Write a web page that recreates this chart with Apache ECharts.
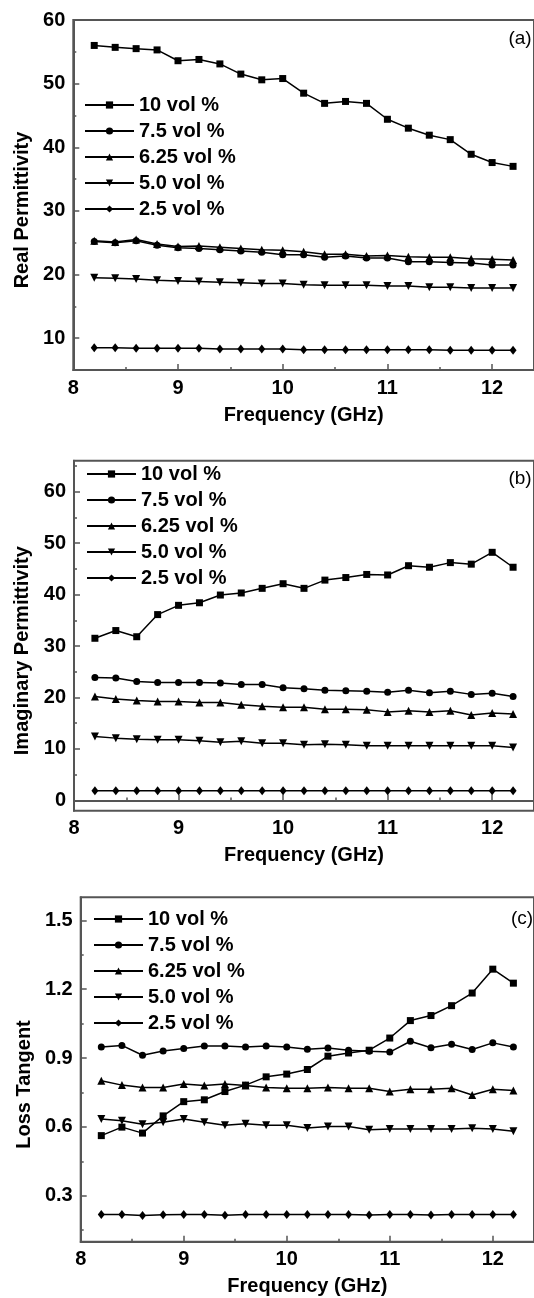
<!DOCTYPE html>
<html>
<head>
<meta charset="utf-8">
<script src="https://cdn.jsdelivr.net/npm/echarts@6/dist/echarts.min.js"></script>
<style>
  html, body { margin: 0; padding: 0; background: #fff; }
  #main { width: 534px; height: 1298px; }
</style>
</head>
<body>
<div id="main"></div>
<script>
var freq = [8.2, 8.4, 8.6, 8.8, 9.0, 9.2, 9.4, 9.6, 9.8, 10.0, 10.2, 10.4, 10.6, 10.8, 11.0, 11.2, 11.4, 11.6, 11.8, 12.0, 12.2];
var seriesNames = ['10 vol %', '7.5 vol %', '6.25 vol %', '5.0 vol %', '2.5 vol %'];

// (a) real permittivity
var real10 = [56.0, 55.7, 55.5, 55.3, 53.6, 53.8, 53.1, 51.5, 50.6, 50.8, 48.5, 46.9, 47.2, 46.9, 44.4, 43.0, 41.9, 41.2, 38.9, 37.6, 37.0];
var real75 = [25.2, 25.0, 25.3, 24.6, 24.2, 24.1, 23.9, 23.7, 23.5, 23.1, 23.1, 22.7, 22.9, 22.6, 22.6, 22.0, 22.0, 21.9, 21.8, 21.5, 21.5];
var real625 = [25.3, 25.1, 25.5, 24.8, 24.4, 24.5, 24.3, 24.1, 23.9, 23.8, 23.6, 23.2, 23.2, 22.9, 23.0, 22.8, 22.7, 22.7, 22.5, 22.4, 22.3];
var real50 = [19.5, 19.4, 19.3, 19.1, 19.0, 18.9, 18.8, 18.7, 18.6, 18.6, 18.4, 18.3, 18.3, 18.3, 18.2, 18.2, 18.0, 18.0, 17.9, 17.9, 17.9];
var real25 = [8.5, 8.5, 8.4, 8.4, 8.4, 8.4, 8.3, 8.3, 8.3, 8.3, 8.2, 8.2, 8.2, 8.2, 8.2, 8.2, 8.2, 8.1, 8.1, 8.1, 8.1];

// (b) imaginary permittivity
var imag10 = [31.5, 33.0, 31.8, 36.1, 37.9, 38.4, 39.9, 40.3, 41.2, 42.1, 41.2, 42.8, 43.3, 43.9, 43.8, 45.6, 45.3, 46.2, 45.9, 48.2, 45.3];
var imag75 = [23.9, 23.8, 23.1, 22.9, 22.9, 22.9, 22.8, 22.5, 22.5, 21.9, 21.7, 21.4, 21.3, 21.2, 21.0, 21.4, 20.9, 21.2, 20.6, 20.8, 20.2];
var imag625 = [20.2, 19.7, 19.4, 19.2, 19.2, 19.0, 19.0, 18.6, 18.3, 18.1, 18.1, 17.7, 17.7, 17.6, 17.2, 17.4, 17.2, 17.4, 16.6, 17.0, 16.8];
var imag50 = [12.4, 12.1, 11.9, 11.8, 11.8, 11.6, 11.3, 11.5, 11.1, 11.1, 10.8, 10.9, 10.8, 10.6, 10.6, 10.6, 10.6, 10.6, 10.6, 10.6, 10.3];
var imag25 = [1.9, 1.9, 1.9, 1.9, 1.9, 1.9, 1.9, 1.9, 1.9, 1.9, 1.9, 1.9, 1.9, 1.9, 1.9, 1.9, 1.9, 1.9, 1.9, 1.9, 1.9];

// (c) loss tangent
var loss10 = [0.562, 0.599, 0.573, 0.648, 0.710, 0.718, 0.754, 0.782, 0.818, 0.830, 0.850, 0.908, 0.922, 0.934, 0.987, 1.063, 1.085, 1.128, 1.183, 1.287, 1.226];
var loss75 = [0.948, 0.955, 0.912, 0.931, 0.941, 0.952, 0.952, 0.948, 0.952, 0.948, 0.938, 0.944, 0.934, 0.929, 0.926, 0.973, 0.945, 0.960, 0.937, 0.966, 0.948];
var loss625 = [0.801, 0.782, 0.772, 0.772, 0.787, 0.780, 0.787, 0.780, 0.772, 0.768, 0.768, 0.772, 0.768, 0.768, 0.754, 0.764, 0.764, 0.768, 0.739, 0.764, 0.758];
var loss50 = [0.634, 0.627, 0.612, 0.620, 0.634, 0.620, 0.607, 0.614, 0.607, 0.607, 0.595, 0.602, 0.602, 0.588, 0.591, 0.591, 0.591, 0.591, 0.594, 0.591, 0.581];
var loss25 = [0.218, 0.218, 0.214, 0.217, 0.218, 0.218, 0.215, 0.218, 0.218, 0.218, 0.218, 0.218, 0.218, 0.216, 0.218, 0.218, 0.216, 0.218, 0.218, 0.218, 0.218];

var xTicks = [8, 9, 10, 11, 12];
var xMinorTicks = [8.5, 9.5, 10.5, 11.5];
var realTicks = [10, 20, 30, 40, 50, 60];
var realMinor = [15, 25, 35, 45, 55];
var imagTicks = [0, 10, 20, 30, 40, 50, 60];
var imagMinor = [5, 15, 25, 35, 45, 55, 65];
var lossTicks = [0.3, 0.6, 0.9, 1.2, 1.5];
var lossMinor = [0.15, 0.45, 0.75, 1.05, 1.35];

var FONT = '"Liberation Sans", Arial, Helvetica, sans-serif';
var AXIS_COLOR = '#555';
var symbols = ['rect', 'circle', 'triangle', 'triangle', 'diamond'];
var symbolRot = [0, 0, 0, 180, 0];
var symbolSizes = [7, 7, 8, 8, [7, 9]];

var panels = [
    {grid: {left: 73.3, top: 20, width: 471, height: 350}, ymin: 5, ymax: 60, ticks: realTicks, minor: realMinor,
     yname: 'Real Permittivity', nameGap: 41, lists: [real10, real75, real625, real50, real25], fmt: null,
     legend: {left: 84, top: 95}, tag: '(a)', tagPos: [520, 39]},
    {grid: {left: 74, top: 460.7, width: 471, height: 350}, ymin: -2, ymax: 66, ticks: imagTicks, minor: imagMinor,
     yname: 'Imaginary Permittivity', nameGap: 41, lists: [imag10, imag75, imag625, imag50, imag25], fmt: null,
     legend: {left: 86, top: 464}, tag: '(b)', tagPos: [520, 479]},
    {grid: {left: 80.7, top: 897.3, width: 464, height: 344.4}, ymin: 0.1, ymax: 1.6, ticks: lossTicks, minor: lossMinor,
     yname: 'Loss Tangent', nameGap: 46, lists: [loss10, loss75, loss625, loss50, loss25], fmt: 1,
     legend: {left: 93, top: 909}, tag: '(c)', tagPos: [522, 919]}
];

function boldText(size) {
    return {fontFamily: FONT, fontWeight: 'bold', fontSize: size, color: '#000'};
}

function pairUp(xs, ys) {
    var out = [];
    for (var i = 0; i < xs.length; i++) {
        out.push([xs[i], ys[i]]);
    }
    return out;
}

var grids = [], xAxes = [], yAxes = [], series = [], legends = [], graphics = [];

for (var p = 0; p < panels.length; p++) {
    var pn = panels[p];
    grids.push({left: pn.grid.left, top: pn.grid.top, width: pn.grid.width, height: pn.grid.height,
                show: true, borderColor: AXIS_COLOR, borderWidth: 2, containLabel: false});

    var xMain = xAxes.length;
    xAxes.push({
        gridIndex: p, type: 'value', min: 8, max: 12.4, position: 'bottom',
        axisLine: {lineStyle: {color: AXIS_COLOR, width: 2}},
        axisTick: {inside: true, length: 6, customValues: xTicks, lineStyle: {color: AXIS_COLOR, width: 1.5}},
        axisLabel: Object.assign({margin: 8, customValues: xTicks}, boldText(20)),
        splitLine: {show: false},
        name: 'Frequency (GHz)', nameLocation: 'middle', nameGap: 35,
        nameTextStyle: boldText(20)
    });
    xAxes.push({
        gridIndex: p, type: 'value', min: 8, max: 12.4, position: 'bottom',
        axisLine: {show: false},
        axisTick: {inside: true, length: 3, customValues: xMinorTicks, lineStyle: {color: AXIS_COLOR, width: 1.5}},
        axisLabel: {show: false}, splitLine: {show: false}
    });

    var yMain = yAxes.length;
    var fmtDigits = pn.fmt;
    yAxes.push({
        gridIndex: p, type: 'value', min: pn.ymin, max: pn.ymax, position: 'left',
        axisLine: {show: true, lineStyle: {color: AXIS_COLOR, width: 2}},
        axisTick: {show: true, inside: true, length: 6, customValues: pn.ticks, lineStyle: {color: AXIS_COLOR, width: 1.5}},
        axisLabel: Object.assign({margin: 8, customValues: pn.ticks,
            formatter: (function (d) { return function (v) { return d ? v.toFixed(d) : String(v); }; })(fmtDigits)}, boldText(20)),
        splitLine: {show: false},
        name: pn.yname, nameLocation: 'middle', nameGap: pn.nameGap,
        nameTextStyle: Object.assign({padding: [0, 30, 0, 0]}, boldText(20))
    });
    yAxes.push({
        gridIndex: p, type: 'value', min: pn.ymin, max: pn.ymax, position: 'left',
        axisLine: {show: false},
        axisTick: {show: true, inside: true, length: 3, customValues: pn.minor, lineStyle: {color: AXIS_COLOR, width: 1.5}},
        axisLabel: {show: false}, splitLine: {show: false}
    });

    for (var s = 0; s < seriesNames.length; s++) {
        series.push({
            name: seriesNames[s], type: 'line', xAxisIndex: xMain, yAxisIndex: yMain,
            data: pairUp(freq, pn.lists[s]),
            symbol: symbols[s], symbolRotate: symbolRot[s], symbolSize: symbolSizes[s],
            showAllSymbol: true, animation: false, silent: true,
            lineStyle: {color: '#000', width: 1.5},
            itemStyle: {color: '#000', borderWidth: 0}
        });
    }

    legends.push({
        orient: 'vertical', left: pn.legend.left, top: pn.legend.top,
        itemWidth: 49, itemHeight: 9, itemGap: 6, padding: 0,
        textStyle: Object.assign({lineHeight: 20}, boldText(20)),
        data: seriesNames, selectedMode: false
    });

    graphics.push({
        type: 'text', x: pn.tagPos[0], y: pn.tagPos[1],
        style: {text: pn.tag, fontFamily: FONT, fontSize: 19, fill: '#000',
                textAlign: 'center', textVerticalAlign: 'middle'}
    });
}

var chart = echarts.init(document.getElementById('main'), null, {renderer: 'canvas'});
chart.setOption({
    animation: false,
    backgroundColor: '#fff',
    grid: grids,
    xAxis: xAxes,
    yAxis: yAxes,
    legend: legends,
    series: series,
    graphic: graphics
});
</script>
</body>
</html>
